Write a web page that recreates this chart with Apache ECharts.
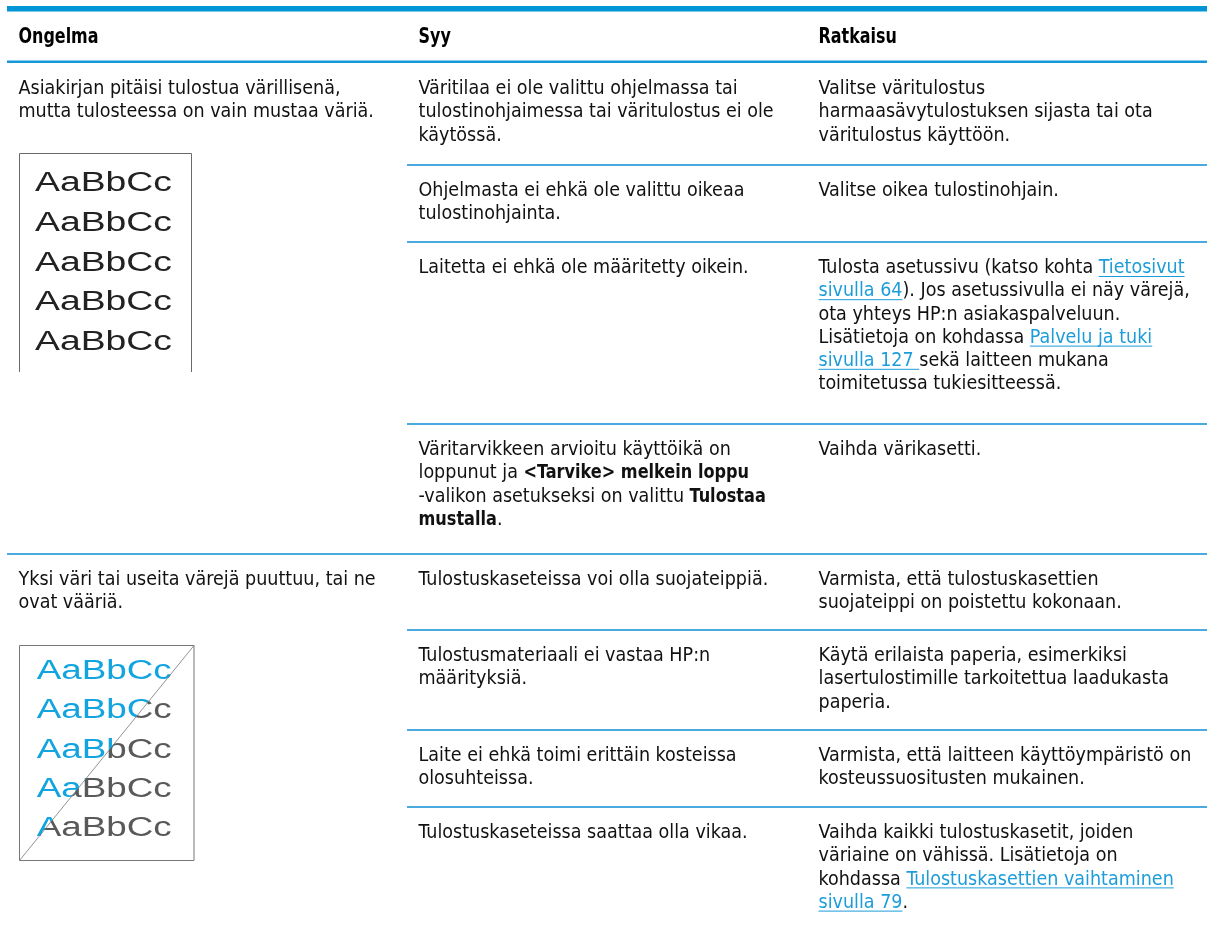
<!DOCTYPE html>
<html><head><meta charset="utf-8">
<script src="https://cdn.jsdelivr.net/npm/echarts@6/dist/echarts.min.js"></script>
<style>html,body{margin:0;padding:0;background:#fff}#c{width:1207px;height:930px}</style>
</head><body><div id="c"></div>
<script>
// ---------------- data ----------------
const headers = ['Ongelma', 'Syy', 'Ratkaisu'];
const problems = [
  ['Asiakirjan pitäisi tulostua värillisenä,', 'mutta tulosteessa on vain mustaa väriä.'],
  ['Yksi väri tai useita värejä puuttuu, tai ne', 'ovat vääriä.']
];
const rowProblem = [0, 0, 0, 0, 1, 1, 1, 1];
const causes = [
  ['Väritilaa ei ole valittu ohjelmassa tai', 'tulostinohjaimessa tai väritulostus ei ole', 'käytössä.'],
  ['Ohjelmasta ei ehkä ole valittu oikeaa', 'tulostinohjainta.'],
  ['Laitetta ei ehkä ole määritetty oikein.'],
  ['Väritarvikkeen arvioitu käyttöikä on', 'loppunut ja **<Tarvike> melkein loppu**', '-valikon asetukseksi on valittu **Tulostaa**', '**mustalla**.'],
  ['Tulostuskaseteissa voi olla suojateippiä.'],
  ['Tulostusmateriaali ei vastaa HP:n', 'määrityksiä.'],
  ['Laite ei ehkä toimi erittäin kosteissa', 'olosuhteissa.'],
  ['Tulostuskaseteissa saattaa olla vikaa.']
];
const solutions = [
  ['Valitse väritulostus', 'harmaasävytulostuksen sijasta tai ota', 'väritulostus käyttöön.'],
  ['Valitse oikea tulostinohjain.'],
  ['Tulosta asetussivu (katso kohta [[Tietosivut]]', '[[sivulla 64]]). Jos asetussivulla ei näy värejä,', 'ota yhteys HP:n asiakaspalveluun.', 'Lisätietoja on kohdassa [[Palvelu ja tuki]]', '[[sivulla 127 ]]sekä laitteen mukana', 'toimitetussa tukiesitteessä.'],
  ['Vaihda värikasetti.'],
  ['Varmista, että tulostuskasettien', 'suojateippi on poistettu kokonaan.'],
  ['Käytä erilaista paperia, esimerkiksi', 'lasertulostimille tarkoitettua laadukasta', 'paperia.'],
  ['Varmista, että laitteen käyttöympäristö on', 'kosteussuositusten mukainen.'],
  ['Vaihda kaikki tulostuskasetit, joiden', 'väriaine on vähissä. Lisätietoja on', 'kohdassa [[Tulostuskasettien vaihtaminen]]', '[[sivulla 79]].']
];
const sampleText = 'AaBbCc';
const sampleCount = 5;

// ---------------- layout / style ----------------
const W = 1207;
const colX = [18.5, 418.5, 818.5];
const innerLineX = 407;
const outerLineX = 7;
const headerY = 38;
const firstRowTop = 62;
const rowHeights = [102, 77, 182, 130, 76, 100, 77, 130];
const firstLineOffset = 27;
const lineH = 23.2;
const blue = '#0096D6';
const sepBlue = '#4AA9DE';
const linkColor = '#1C9DD9';
const textColor = '#111';

function hasFont(name) {
  const c = document.createElement('canvas').getContext('2d');
  const s = 'abcdefghijklmnopqrstuvwxyzÄÖ';
  c.font = '40px monospace';
  const w0 = c.measureText(s).width;
  c.font = '40px "' + name + '", monospace';
  return Math.abs(c.measureText(s).width - w0) > 0.5;
}
const fam = ['DejaVu Sans Condensed', 'Open Sans', 'Noto Sans', 'DejaVu Sans'].find(hasFont) || 'sans-serif';
const bodyFont = '20px "' + fam + '"';
const boldFont = 'bold 20px "' + fam + '"';
const headFont = 'bold 20.5px "' + fam + '"';
const sampleFont = '27px "Liberation Sans"';

const mctx = document.createElement('canvas').getContext('2d');
function measure(font, t) { mctx.font = font; return mctx.measureText(t).width; }
function clamp(v) { return Math.max(0.75, Math.min(1.25, v)); }
const sxN = clamp(322 / measure(bodyFont, problems[0][0]));
const sxB = clamp(225.6 / measure(boldFont, '<Tarvike> melkein loppu'));
const sxH = clamp(80 / measure(headFont, headers[0]));
const sxS = 137 / measure(sampleFont, sampleText);

function parseLine(s) {
  const segs = []; const re = /(\*\*[^*]+\*\*|\[\[[^\]]+\]\])/g; let last = 0, m;
  while ((m = re.exec(s))) {
    if (m.index > last) segs.push({ t: s.slice(last, m.index) });
    const tok = m[0];
    if (tok.startsWith('**')) segs.push({ t: tok.slice(2, -2), bold: true });
    else segs.push({ t: tok.slice(2, -2), link: true });
    last = re.lastIndex;
  }
  if (last < s.length) segs.push({ t: s.slice(last) });
  return segs;
}

const els = [];
function textEl(x, y, text, font, sx, fill) {
  return { type: 'text', x: x, y: y, scaleX: sx, silent: true,
    style: { text: text, font: font, fill: fill, textAlign: 'left', align: 'left', textVerticalAlign: 'middle', verticalAlign: 'middle' } };
}
function drawLine(x, y, s) {
  let cx = x;
  parseLine(s).forEach(seg => {
    const font = seg.bold ? boldFont : bodyFont;
    const sx = seg.bold ? sxB : sxN;
    const w = measure(font, seg.t) * sx;
    els.push(textEl(cx, y, seg.t, font, sx, seg.link ? linkColor : textColor));
    if (seg.link) {
      els.push({ type: 'line', silent: true, shape: { x1: cx, y1: y + 8.5, x2: cx + w, y2: y + 8.5 }, style: { stroke: linkColor, lineWidth: 1 } });
    }
    cx += w;
  });
}
function hline(x1, x2, y, lw, color) {
  els.push({ type: 'line', silent: true, shape: { x1: x1, y1: y, x2: x2, y2: y }, style: { stroke: color, lineWidth: lw } });
}

// top bar + header
els.push({ type: 'rect', silent: true, shape: { x: outerLineX, y: 6, width: W - outerLineX, height: 5.5 }, style: { fill: blue } });
headers.forEach((h, i) => els.push(textEl(colX[i], headerY, h, headFont, sxH, '#000')));
hline(outerLineX, W, 61.75, 2.5, '#1598D6');

// rows
let rowY = firstRowTop;
const rowTops = [];
rowHeights.forEach((h, i) => {
  rowTops.push(rowY);
  if (i > 0) {
    const full = rowProblem[i] !== rowProblem[i - 1];
    hline(full ? outerLineX : innerLineX, W, rowY + 1, 2, sepBlue);
  }
  const y0 = rowY + firstLineOffset;
  causes[i].forEach((l, k) => drawLine(colX[1], y0 + k * lineH, l));
  solutions[i].forEach((l, k) => drawLine(colX[2], y0 + k * lineH, l));
  rowY += h;
});
problems.forEach((p, g) => {
  const r = rowProblem.indexOf(g);
  p.forEach((l, k) => drawLine(colX[0], rowTops[r] + firstLineOffset + k * lineH, l));
});

// sample page 1 (all black)
const b1 = { x1: 19.5, y1: 153.5, x2: 191.5, y2: 372 };
els.push({ type: 'polyline', silent: true, shape: { points: [[b1.x1, b1.y2], [b1.x1, b1.y1], [b1.x2, b1.y1], [b1.x2, b1.y2]] }, style: { stroke: '#6a6a6a', lineWidth: 1, fill: null } });
for (let i = 0; i < sampleCount; i++) {
  els.push({ type: 'text', x: 35, y: 184 + i * 39.6, scaleX: sxS, silent: true,
    style: { text: sampleText, font: sampleFont, fill: '#222', textVerticalAlign: 'middle', verticalAlign: 'middle' } });
}
// sample page 2 frame + diagonal
const b2 = { x1: 19.5, y1: 645.5, x2: 194, y2: 860.5 };
els.push({ type: 'rect', silent: true, shape: { x: b2.x1, y: b2.y1, width: b2.x2 - b2.x1, height: b2.y2 - b2.y1 }, style: { stroke: '#777', lineWidth: 1, fill: null } });
els.push({ type: 'line', silent: true, shape: { x1: b2.x1, y1: b2.y2, x2: b2.x2, y2: b2.y1 }, style: { stroke: '#777', lineWidth: 0.8 } });

const chart = echarts.init(document.getElementById('c'), null, { renderer: 'canvas', width: 1207, height: 930 });
chart.setOption({ animation: false, backgroundColor: '#fff', graphic: { elements: els } });

// sample page 2 text, split by the diagonal (cyan above-left, gray below-right)
const zr = chart.getZr();
const dx = b2.x2 - b2.x1, dy = b2.y1 - b2.y2;
const A = [b2.x1 - 0.3 * dx, b2.y2 - 0.3 * dy], B = [b2.x2 + 0.3 * dx, b2.y1 + 0.3 * dy];
function clippedGroup(points, color) {
  const g = new echarts.graphic.Group();
  g.setClipPath(new echarts.graphic.Polygon({ shape: { points: points } }));
  for (let i = 0; i < sampleCount; i++) {
    g.add(new echarts.graphic.Text({ x: 36.7, y: 671.5 + i * 39.3, scaleX: 135 / measure(sampleFont, sampleText), silent: true,
      style: { text: sampleText, font: sampleFont, fill: color, verticalAlign: 'middle', align: 'left' } }));
  }
  zr.add(g);
}
clippedGroup([A, B, [A[0], B[1]]], '#12A4DF');
clippedGroup([A, B, [B[0], A[1]]], '#595959');
</script>
</body></html>
